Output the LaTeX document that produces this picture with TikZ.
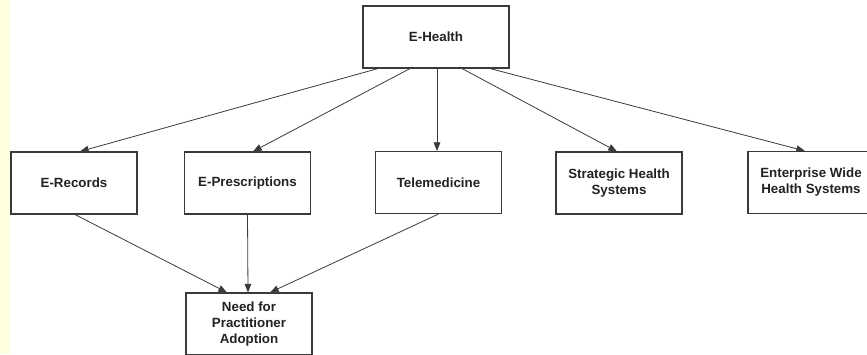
\documentclass[tikz,border=0pt]{standalone}
\usepackage{fontspec}
\setmainfont{Liberation Sans}
\usepackage{xcolor}
\usetikzlibrary{arrows.meta,calc}
\definecolor{sidebar}{HTML}{FFFFE0}
\definecolor{boxline}{HTML}{3A3A3A}
\definecolor{txt}{HTML}{222222}

\begin{document}
\begin{tikzpicture}[
  x=0.75pt, y=-0.75pt,
  topic/.style={
    rectangle, draw=boxline, line width=0.8pt, fill=white,
    minimum width=126*0.75pt, minimum height=62*0.75pt,
    align=center, font=\bfseries, text=txt, inner sep=2pt
  },
  link/.style={-{Triangle[length=6.5pt,width=5pt]}, line width=0.6pt, draw=boxline}
]
\useasboundingbox (0,0) rectangle (867,354);
\fill[sidebar] (0,0) rectangle (10,354);

\node[topic, minimum width=146*0.75pt] (ehealth) at (436,37) {E-Health};
\node[topic] (records) at (74,183) {E-Records};
\node[topic] (prescr) at (247.5,183) {E-Prescriptions};
\node[topic] (tele) at (438.5,182.5) {Telemedicine};
\node[topic] (strat) at (619,183) {Strategic Health\\Systems};
\node[topic] (enterp) at (811,182.5) {Enterprise Wide\\Health Systems};
\node[topic] (adopt) at (249,324) {Need for\\Practitioner\\Adoption};

\draw[link] ($(ehealth.south)+(-58,0)$) -- ($(records.north)+(6,0)$);
\draw[link] ($(ehealth.south)+(-26,0)$) -- ($(prescr.north)+(5.5,0)$);
\draw[link] ($(ehealth.south)+(1,0)$) -- ($(tele.north)+(-1.5,0)$);
\draw[link] ($(ehealth.south)+(26,0)$) -- ($(strat.north)+(-2,0)$);
\draw[link] ($(ehealth.south)+(54,0)$) -- ($(enterp.north)+(-6,0)$);

\draw[link] ($(records.south)+(1,0)$) -- ($(adopt.north)+(-22,0)$);
\draw[link] (prescr.south) -- ($(adopt.north)+(-1,0)$);
\draw[link] (tele.south) -- ($(adopt.north)+(21,0)$);
\end{tikzpicture}
\end{document}
